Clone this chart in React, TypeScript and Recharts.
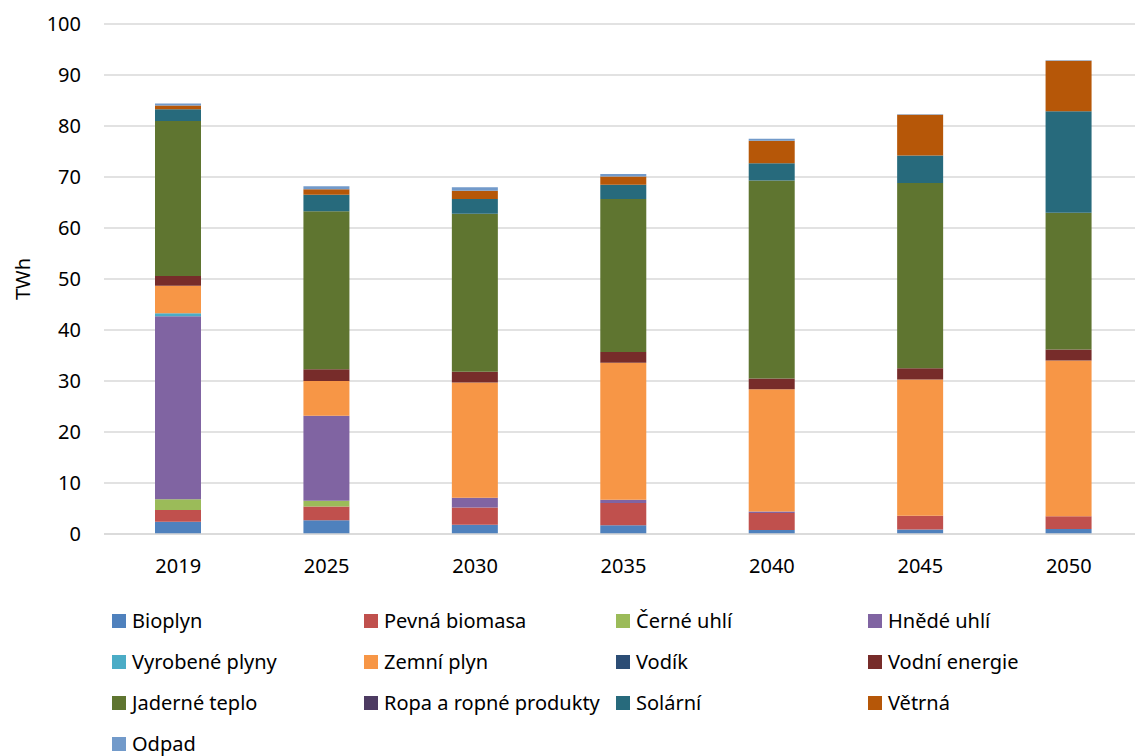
import React from "react";
import { Bar, BarChart, CartesianGrid, XAxis, YAxis } from "recharts";

const years = ["2019", "2025", "2030", "2035", "2040", "2045", "2050"];
const yTicks = [0, 10, 20, 30, 40, 50, 60, 70, 80, 90, 100];

const bioplyn = [2.4, 2.7, 1.8, 1.7, 0.8, 0.9, 1.0];
const pevnaBiomasa = [2.3, 2.7, 3.4, 4.4, 3.3, 2.7, 2.5];
const cerneUhli = [2.1, 1.1, 0, 0, 0, 0, 0];
const hnedeUhli = [35.9, 16.7, 1.9, 0.6, 0.3, 0, 0];
const vyrobenePlyny = [0.6, 0, 0, 0, 0, 0, 0];
const zemniPlyn = [5.4, 6.8, 22.6, 26.9, 24.0, 26.7, 30.5];
const vodik = [0, 0, 0, 0, 0, 0, 0];
const vodniEnergie = [1.9, 2.3, 2.1, 2.1, 2.1, 2.2, 2.2];
const jaderneTeplo = [30.4, 31.0, 31.0, 30.0, 38.8, 36.3, 26.8];
const ropa = [0, 0, 0, 0, 0, 0, 0];
const solarni = [2.3, 3.2, 2.9, 2.8, 3.4, 5.4, 19.9];
const vetrna = [0.7, 1.1, 1.6, 1.6, 4.4, 8.0, 9.9];
const odpad = [0.4, 0.6, 0.7, 0.5, 0.4, 0.1, 0.1];

const series = [
  { key: "bioplyn", name: "Bioplyn", color: "#4f81bd", values: bioplyn },
  { key: "pevna", name: "Pevná biomasa", color: "#c0504d", values: pevnaBiomasa },
  { key: "cerne", name: "Černé uhlí", color: "#9bbb59", values: cerneUhli },
  { key: "hnede", name: "Hnědé uhlí", color: "#8064a2", values: hnedeUhli },
  { key: "vyrobene", name: "Vyrobené plyny", color: "#4bacc6", values: vyrobenePlyny },
  { key: "zemni", name: "Zemní plyn", color: "#f79646", values: zemniPlyn },
  { key: "vodik", name: "Vodík", color: "#2c4d75", values: vodik },
  { key: "vodni", name: "Vodní energie", color: "#772c2a", values: vodniEnergie },
  { key: "jaderne", name: "Jaderné teplo", color: "#5f7530", values: jaderneTeplo },
  { key: "ropa", name: "Ropa a ropné produkty", color: "#4d3b62", values: ropa },
  { key: "solarni", name: "Solární", color: "#276a7c", values: solarni },
  { key: "vetrna", name: "Větrná", color: "#b65708", values: vetrna },
  { key: "odpad", name: "Odpad", color: "#729aca", values: odpad },
];

const data = years.map((year, i) => {
  const row: Record<string, string | number> = { year };
  series.forEach((s) => {
    row[s.key] = s.values[i];
  });
  return row;
});

const FONT = "'Noto Sans', sans-serif";

const renderYLabel = () => (
  <text
    x={22}
    y={279}
    transform="rotate(-90 22 279)"
    textAnchor="middle"
    dominantBaseline="central"
    fontSize={20}
    fill="#000"
    fontFamily={FONT}
  >
    TWh
  </text>
);

export default function App() {
  return (
    <div
      style={{
        position: "fixed",
        top: 0,
        left: 0,
        width: 1135,
        height: 756,
        overflow: "hidden",
        background: "#fff",
        fontFamily: FONT,
      }}
    >
      <BarChart
        width={1150}
        height={756}
        data={data}
        margin={{ top: 24, right: 7, bottom: 162, left: 0 }}
      >
        <CartesianGrid vertical={false} stroke="#d9d9d9" strokeWidth={1.5} />
        <XAxis
          dataKey="year"
          axisLine={{ stroke: "#d9d9d9", strokeWidth: 1.5 }}
          tickLine={false}
          tickSize={0}
          tickMargin={25}
          height={60}
          tick={{ fontSize: 20, fill: "#000", fontFamily: FONT }}
        />
        <YAxis
          width={104}
          domain={[0, 100]}
          ticks={yTicks}
          axisLine={false}
          tickLine={false}
          tickSize={0}
          tickMargin={23}
          tick={{ fontSize: 20, fill: "#000", fontFamily: FONT }}
          label={{ value: "TWh", content: renderYLabel }}
        />
        {series.map((s) => (
          <Bar
            key={s.key}
            dataKey={s.key}
            name={s.name}
            stackId="a"
            fill={s.color}
            barSize={46}
            isAnimationActive={false}
          />
        ))}
      </BarChart>
      <div
        style={{
          position: "absolute",
          left: 112,
          top: 600,
          display: "grid",
          gridTemplateColumns: "252px 252px 252px 252px",
          rowGap: 0,
        }}
      >
        {series.map((s) => (
          <div
            key={s.key}
            style={{
              display: "flex",
              alignItems: "center",
              height: 41,
              fontSize: 20,
              lineHeight: "22px",
              color: "#000",
              whiteSpace: "nowrap",
            }}
          >
            <span
              style={{
                display: "inline-block",
                width: 14,
                height: 14,
                background: s.color,
                marginRight: 6,
                flexShrink: 0,
              }}
            />
            {s.name}
          </div>
        ))}
      </div>
    </div>
  );
}
